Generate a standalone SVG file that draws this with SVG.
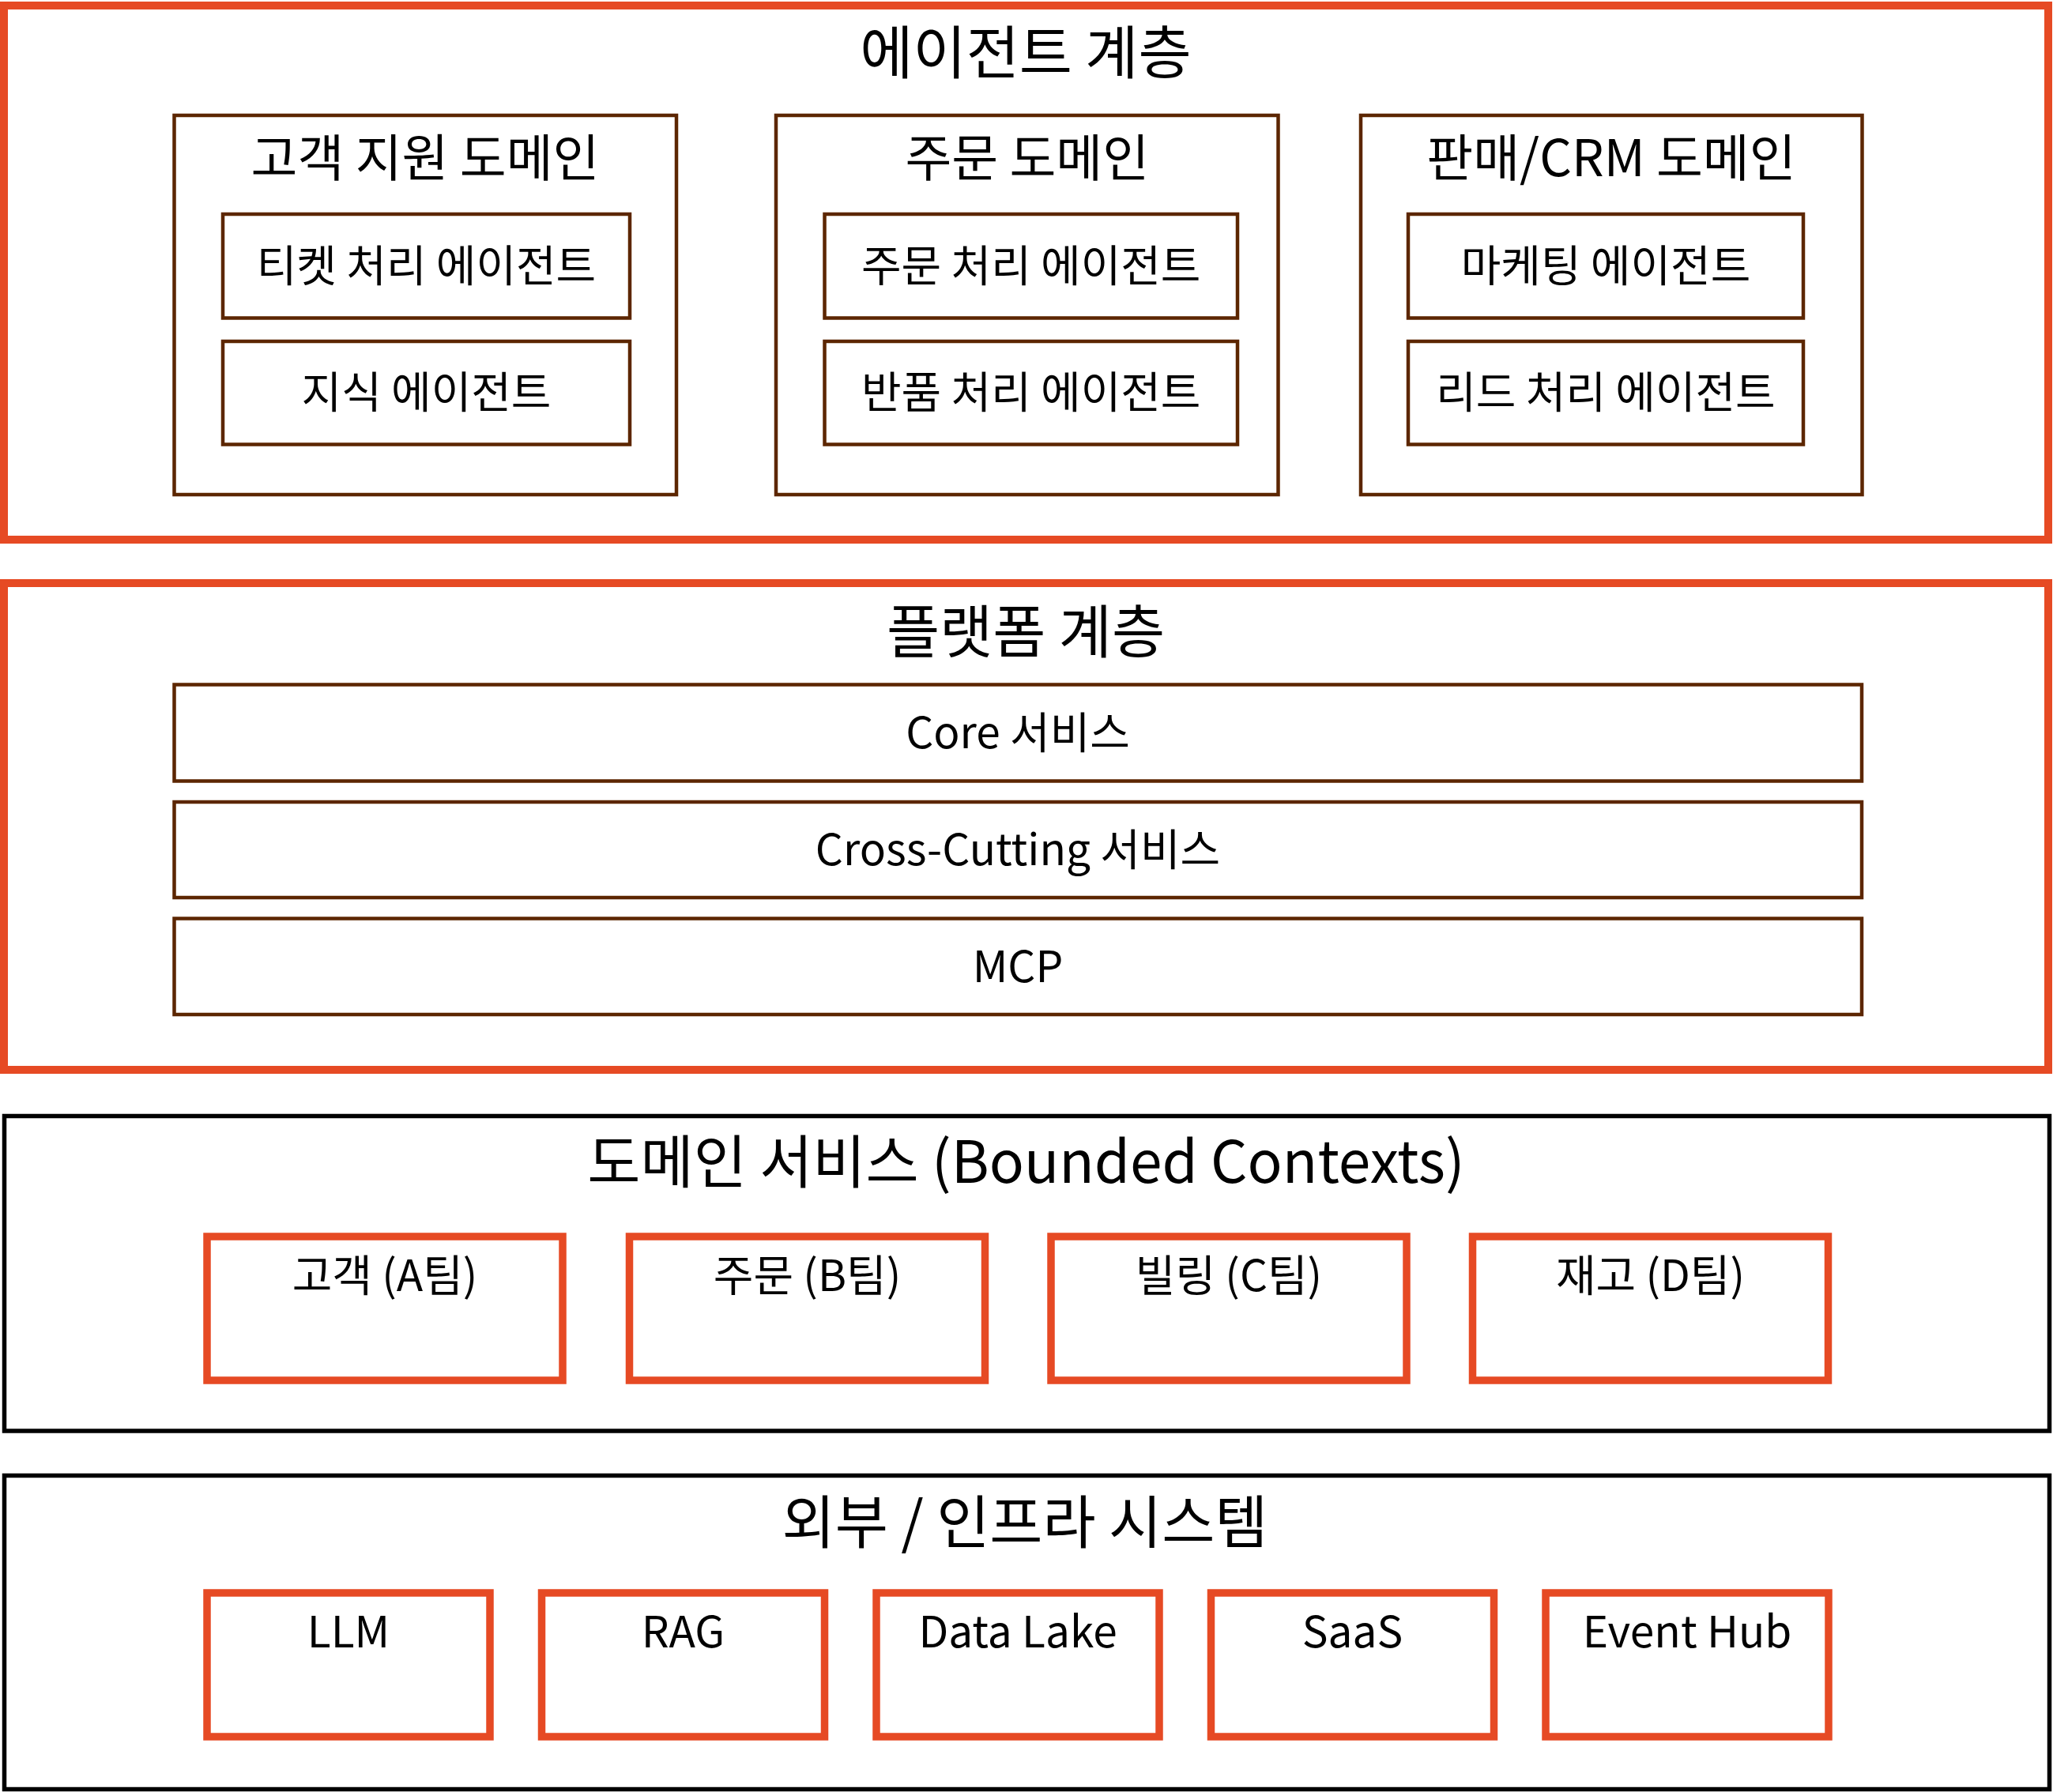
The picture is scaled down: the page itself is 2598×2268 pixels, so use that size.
<svg xmlns="http://www.w3.org/2000/svg" width="2598" height="2268" viewBox="0 0 2598 2268">
<style>
text { font-family: "Noto Sans CJK KR", "Noto Sans", sans-serif; fill: #000; text-anchor: middle; }
.layer { fill: #fff; stroke: #E64A24; stroke-width: 10; }
.layerk { fill: #fff; stroke: #000; stroke-width: 5.5; }
.dom { fill: #fff; stroke: #5C2600; stroke-width: 4.5; }
.svc { fill: #fff; stroke: #E64A24; stroke-width: 9.5; }
.t1 { font-size: 73px; }
.t2 { font-size: 64px; }
.t3 { font-size: 55px; }
</style>
<rect width="2598" height="2268" fill="#fff"/>

<g id="agent-layer">
  <rect class="layer" x="5" y="7" width="2587" height="676"/>
  <text class="t1" x="1298" y="92.5">에이전트 계층</text>
</g>
<g id="domain-customer">
  <rect class="dom" x="220.5" y="146" width="635.5" height="480"/>
  <text class="t2" x="538" y="223">고객 지원 도메인</text>
</g>
<g id="agent-ticket">
  <rect class="dom" x="282" y="271" width="515" height="131.5"/>
  <text class="t3" x="539.5" y="355.5">티켓 처리 에이전트</text>
</g>
<g id="agent-knowledge">
  <rect class="dom" x="282" y="432" width="515" height="130.5"/>
  <text class="t3" x="539.5" y="516">지식 에이전트</text>
</g>
<g id="domain-order">
  <rect class="dom" x="982" y="146" width="635.5" height="480"/>
  <text class="t2" x="1299.75" y="223">주문 도메인</text>
</g>
<g id="agent-order">
  <rect class="dom" x="1043.5" y="271" width="522.5" height="131.5"/>
  <text class="t3" x="1304.75" y="355.5">주문 처리 에이전트</text>
</g>
<g id="agent-return">
  <rect class="dom" x="1043.5" y="432" width="522.5" height="130.5"/>
  <text class="t3" x="1304.75" y="516">반품 처리 에이전트</text>
</g>
<g id="domain-sales">
  <rect class="dom" x="1722" y="146" width="634.5" height="480"/>
  <text class="t2" x="2039" y="223">판매/CRM 도메인</text>
</g>
<g id="agent-marketing">
  <rect class="dom" x="1782" y="271" width="500" height="131.5"/>
  <text class="t3" x="2032" y="355.5">마케팅 에이전트</text>
</g>
<g id="agent-lead">
  <rect class="dom" x="1782" y="432" width="500" height="130.5"/>
  <text class="t3" x="2032" y="516">리드 처리 에이전트</text>
</g>

<g id="platform-layer">
  <rect class="layer" x="5" y="738" width="2587" height="616"/>
  <text class="t1" x="1298" y="826">플랫폼 계층</text>
</g>
<g id="core-services">
  <rect class="dom" x="220.5" y="866.5" width="2135.5" height="122"/>
  <text class="t3" x="1288" y="947">Core 서비스</text>
</g>
<g id="cross-cutting">
  <rect class="dom" x="220.5" y="1015" width="2135.5" height="121"/>
  <text class="t3" x="1288" y="1095">Cross-Cutting 서비스</text>
</g>
<g id="mcp">
  <rect class="dom" x="220.5" y="1162.5" width="2135.5" height="121.5"/>
  <text class="t3" x="1288" y="1242.5">MCP</text>
</g>

<g id="domain-services">
  <rect class="layerk" x="5.5" y="1412.5" width="2588" height="398.5"/>
  <text class="t1" x="1298.5" y="1497">도메인 서비스 (Bounded Contexts)</text>
</g>
<g id="bc-customer">
  <rect class="svc" x="262" y="1565" width="450" height="182"/>
  <text class="t3" x="487" y="1634">고객 (A팀)</text>
</g>
<g id="bc-order">
  <rect class="svc" x="796.5" y="1565" width="450" height="182"/>
  <text class="t3" x="1021.5" y="1634">주문 (B팀)</text>
</g>
<g id="bc-billing">
  <rect class="svc" x="1330" y="1565" width="450" height="182"/>
  <text class="t3" x="1555" y="1634">빌링 (C팀)</text>
</g>
<g id="bc-inventory">
  <rect class="svc" x="1863.5" y="1565" width="450" height="182"/>
  <text class="t3" x="2088.5" y="1634">재고 (D팀)</text>
</g>

<g id="external-layer">
  <rect class="layerk" x="5.5" y="1867.5" width="2588" height="397"/>
  <text class="t1" x="1297" y="1953">외부 / 인프라 시스템</text>
</g>
<g id="ext-llm">
  <rect class="svc" x="262" y="2016" width="358" height="182"/>
  <text class="t3" x="441" y="2085">LLM</text>
</g>
<g id="ext-rag">
  <rect class="svc" x="685.5" y="2016" width="358" height="182"/>
  <text class="t3" x="864.5" y="2085">RAG</text>
</g>
<g id="ext-datalake">
  <rect class="svc" x="1109" y="2016" width="358" height="182"/>
  <text class="t3" x="1288" y="2085">Data Lake</text>
</g>
<g id="ext-saas">
  <rect class="svc" x="1532.5" y="2016" width="358" height="182"/>
  <text class="t3" x="1711.5" y="2085">SaaS</text>
</g>
<g id="ext-eventhub">
  <rect class="svc" x="1956" y="2016" width="358" height="182"/>
  <text class="t3" x="2135" y="2085">Event Hub</text>
</g>

<g id="connectors"></g>
</svg>
